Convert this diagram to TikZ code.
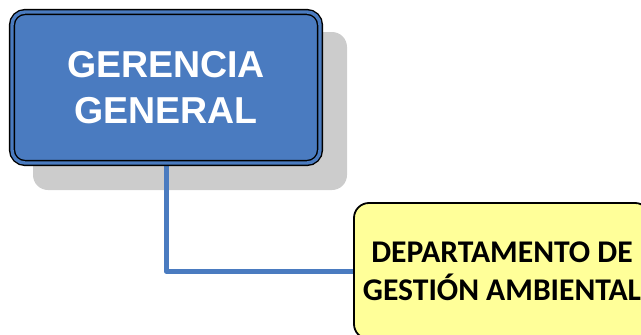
\documentclass[tikz,border=0pt]{standalone}
\usepackage{fontspec}
\usetikzlibrary{backgrounds}
\newfontfamily\arialb{Liberation Sans}
\newfontfamily\calib{Carlito}
\definecolor{boxblue}{HTML}{4A7BC0}
\definecolor{shadowgray}{HTML}{CCCCCC}
\definecolor{boxyellow}{HTML}{FFFF99}
\tikzset{
  genbox/.style={draw=black, line width=1.4pt, double=boxblue, double distance=3.4pt,
    fill=boxblue, rounded corners=13pt, minimum width=308pt, minimum height=151pt,
    inner sep=0pt, align=center, text=white, font=\arialb\bfseries\fontsize{37.5}{46}\selectfont},
  depbox/.style={draw=black, line width=1.8pt, fill=boxyellow, rounded corners=15pt,
    minimum width=296pt, minimum height=136pt, inner sep=0pt, align=center,
    font=\calib\bfseries\fontsize{31.6}{38}\selectfont},
  conn/.style={draw=boxblue, line width=5pt, line join=round},
  shadowbox/.style={fill=shadowgray, rounded corners=15pt}
}
\begin{document}
\begin{tikzpicture}[x=1pt,y=-1pt]
\useasboundingbox (0,0) rectangle (641,335);
\clip (0,0) rectangle (641,335);
\node[genbox] (gg) at (166,87.5) {GERENCIA\\GENERAL};
\node[depbox] (dep) at (502,271) {DEPARTAMENTO DE\\GESTIÓN AMBIENTAL};
\begin{scope}[on background layer]
\fill[shadowbox] (33,32) rectangle (347,190);
\draw[conn] (gg.south) |- (dep.west);
\end{scope}
\end{tikzpicture}
\end{document}
